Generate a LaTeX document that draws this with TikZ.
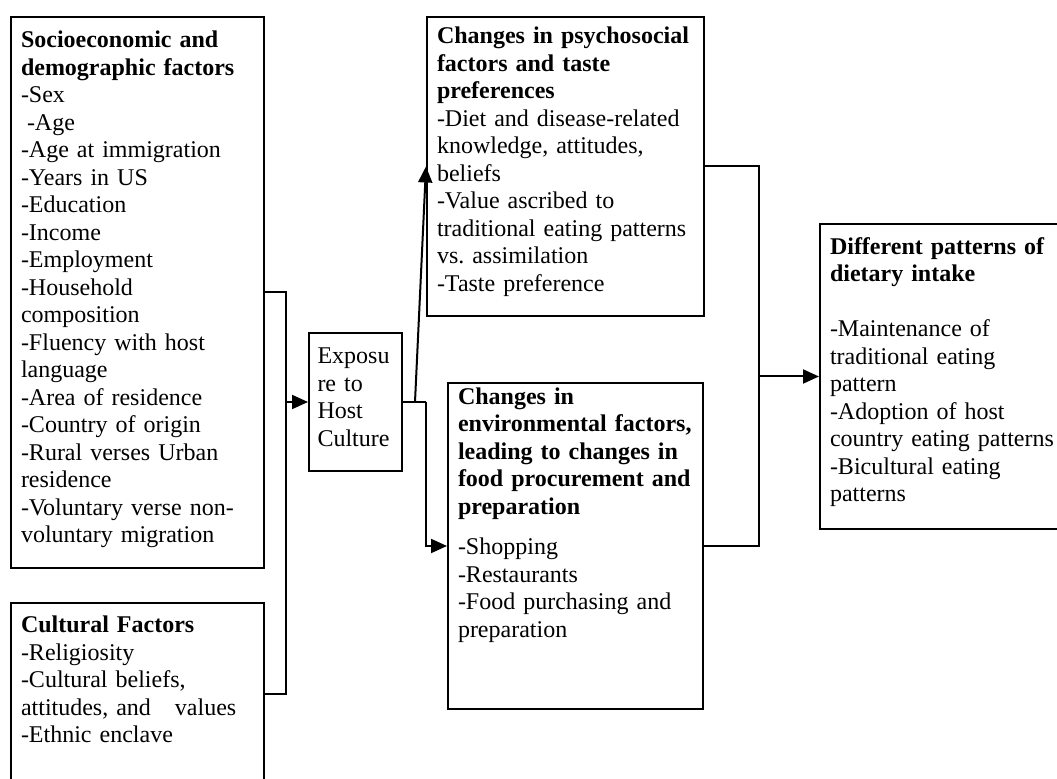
\documentclass[tikz,border=0pt]{standalone}
\usepackage{fontspec}
\setmainfont{Liberation Serif}
\usetikzlibrary{arrows.meta}
\hyphenpenalty=10000
\exhyphenpenalty=10000
\frenchspacing

\begin{document}
\begin{tikzpicture}[x=0.5pt,y=-0.5pt]
        \tikzstyle{factbox}=[draw,line width=1pt,anchor=north west,align=left,inner xsep=5pt,inner ysep=0pt,
          font=\fontsize{12}{13.75}\selectfont]
        \tikzstyle{link}=[line width=1pt]
        \tikzstyle{tip}=[line width=1pt,-{Triangle[length=8pt,width=7pt]}]
        \useasboundingbox (0,0) rectangle (1057,779);
        \clip (0,0) rectangle (1057,779);

        \node[factbox,text width=116.5pt,text height=15.3pt,text depth=260.2pt] (socio) at (10,16)
          {\textbf{Socioeconomic and}\\ \textbf{demographic factors}\\ -Sex\\ \hspace*{3pt}-Age\\
           -Age at immigration\\ -Years in US\\ -Education\\ -Income\\ -Employment\\ -Household\\
           composition\\ -Fluency with host\\ language\\ -Area of residence\\ -Country of origin\\
           -Rural verses Urban\\ residence\\ -Voluntary verse non-\\ voluntary migration};
        \node[factbox,text width=116.5pt,text height=14.9pt,text depth=76.1pt] (cult) at (10,602)
          {\textbf{Cultural Factors}\\ -Religiosity\\ -Cultural beliefs,\\ attitudes, and~~~values\\
           -Ethnic enclave};
        \node[factbox,inner xsep=4.25pt,text width=38pt,text height=15.5pt,text depth=53.5pt] (expo) at (308,332)
          {Exposu\\ re to\\ Host\\ Culture};
        \node[factbox,text width=128.5pt,text height=13.5pt,text depth=136pt] (psycho) at (426,16)
          {\textbf{Changes in psychosocial}\\ \textbf{factors and taste}\\ \textbf{preferences}\\
           -Diet and disease-related\\ knowledge, attitudes,\\ beliefs\\ -Value ascribed to\\
           traditional eating patterns\\ vs. assimilation\\ -Taste preference};
        \node[factbox,text width=117.5pt,text height=10.7pt,text depth=152.3pt] (enviro) at (447,382)
          {\textbf{Changes in}\\ \textbf{environmental factors,}\\ \textbf{leading to changes in}\\
           \textbf{food procurement and}\\ \textbf{preparation}\\[6.5pt] -Shopping\\ -Restaurants\\
           -Food purchasing and\\ preparation};
        \node[factbox,text width=113pt,text height=15.2pt,text depth=137.3pt] (diet) at (819,223)
          {\textbf{Different patterns of}\\ \textbf{dietary intake}\\[13.75pt] -Maintenance of\\
           traditional eating\\ pattern\\ -Adoption of host\\ country eating patterns\\
           -Bicultural eating\\ patterns};

        \coordinate (join) at ([xshift=-11pt]expo.west);
        \coordinate (up) at ([xshift=6pt]expo.east);
        \coordinate (down) at ([xshift=11.5pt]expo.east);
        \coordinate (merge) at ([xshift=-30pt]diet.west);

        \draw[link] (socio.east) -| (join) |- (cult.east);
        \draw[tip] (join) -- (expo.west);
        \draw[link] (expo.east) -- (down);
        \draw[tip] (up) -- (psycho.west);
        \draw[tip] (down) |- (enviro.west);
        \draw[link] (psycho.east) -| (merge) |- (enviro.east);
        \draw[tip] (merge) -- (diet.west);
\end{tikzpicture}
\end{document}
